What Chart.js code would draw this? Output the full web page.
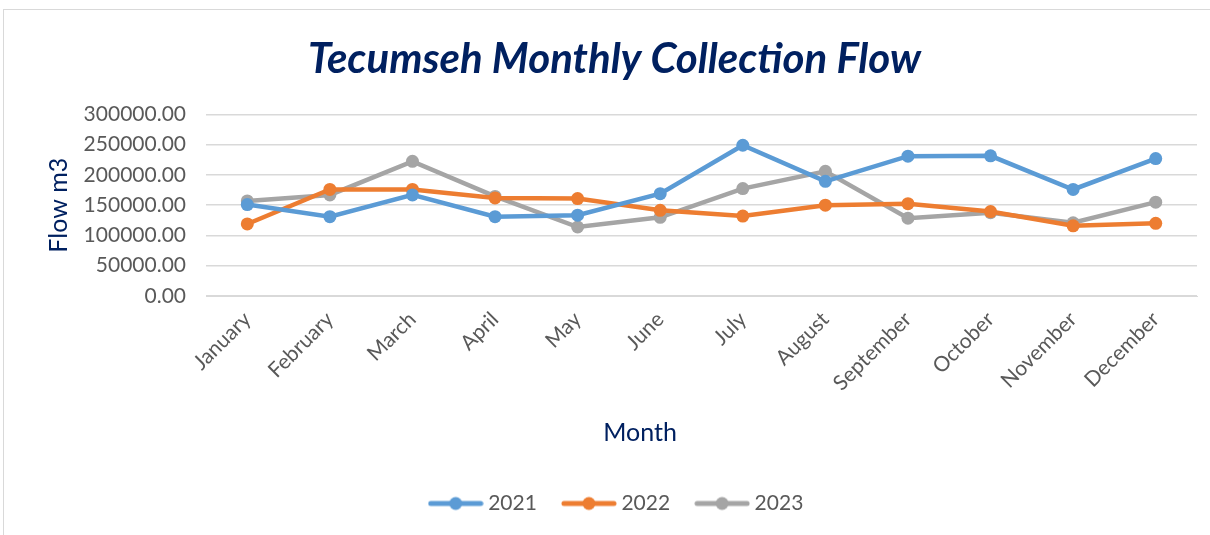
<!DOCTYPE html>
<html>
<head>
<meta charset="utf-8">
<script src="https://cdn.jsdelivr.net/npm/chart.js"></script>
<style>
  html, body { margin: 0; padding: 0; background: #fff; }
  #wrap {
    position: absolute; left: 3px; top: 9px; width: 1207px; height: 526px;
    border-left: 1px solid #d9d9d9; border-top: 1px solid #d9d9d9;
    box-sizing: border-box;
  }
  #chart { position: absolute; left: -4px; top: -10px; }
</style>
</head>
<body>
<div id="wrap"><canvas id="chart" width="1210" height="535"></canvas></div>
<script>
  'use strict';

  const months = ['January', 'February', 'March', 'April', 'May', 'June',
    'July', 'August', 'September', 'October', 'November', 'December'];
  const flow2021 = [151000, 131000, 167000, 131000, 133500, 169000, 249000, 189500, 231000, 231500, 176000, 227000];
  const flow2022 = [119000, 176000, 176000, 162000, 161000, 141500, 132000, 150000, 152500, 139500, 116000, 120000];
  const flow2023 = [157000, 167000, 222500, 164500, 114000, 130000, 177500, 206000, 128500, 137500, 121000, 155000];
  const yTicks = [0, 50000, 100000, 150000, 200000, 250000, 300000];

  const BLUE = '#5B9BD5';
  const ORANGE = '#ED7D31';
  const GRAY = '#A5A5A5';
  const NAVY = '#002060';
  const TEXT = '#595959';

  // legend marker: line with a dot on it
  function legendIcon(color) {
    const c = document.createElement('canvas');
    c.width = 56;
    c.height = 16;
    const g = c.getContext('2d');
    g.strokeStyle = color;
    g.lineWidth = 5;
    g.lineCap = 'round';
    g.beginPath();
    g.moveTo(3, 8);
    g.lineTo(53, 8);
    g.stroke();
    g.fillStyle = color;
    g.beginPath();
    g.arc(28, 8, 6.5, 0, Math.PI * 2);
    g.fill();
    return c;
  }

  function series(label, data, color) {
    return {
      label,
      data,
      borderColor: color,
      backgroundColor: color,
      borderWidth: 4.5,
      pointRadius: 6.5,
      pointHoverRadius: 6.5,
      pointBorderWidth: 0,
      pointStyle: 'circle',
      tension: 0
    };
  }

  // nudge title / legend off the plot centre the way the original sits,
  // and put the x-axis title where it is in the original
  const placement = {
    id: 'placement',
    afterLayout(chart) {
      chart.titleBlock.left += 32;
      chart.legend.left += 40;
    },
    afterDraw(chart) {
      const ctx = chart.ctx;
      ctx.save();
      ctx.font = '25px Lato';
      ctx.fillStyle = NAVY;
      ctx.textAlign = 'center';
      ctx.textBaseline = 'middle';
      ctx.fillText('Month', 640, 433);
      ctx.restore();
    }
  };

  new Chart(document.getElementById('chart').getContext('2d'), {
    type: 'line',
    data: {
      labels: months,
      datasets: [
        series('2021', flow2021, BLUE),
        series('2022', flow2022, ORANGE),
        series('2023', flow2023, GRAY)
      ]
    },
    plugins: [placement],
    options: {
      responsive: false,
      animation: false,
      layout: { padding: { left: 0, right: 13, top: 34, bottom: 11 } },
      plugins: {
        title: {
          display: true,
          text: 'Tecumseh Monthly Collection Flow',
          color: NAVY,
          font: { family: 'Lato', size: 42, weight: 'bold', style: 'italic', lineHeight: 1.2 },
          padding: { top: 0, bottom: 30 }
        },
        legend: {
          position: 'bottom',
          labels: {
            color: TEXT,
            font: { family: 'Lato', size: 21 },
            usePointStyle: true,
            pointStyleWidth: 44,
            boxHeight: 16,
            generateLabels: function (chart) {
              return chart.data.datasets.map((ds, i) => ({
                text: ds.label,
                fillStyle: ds.borderColor,
                strokeStyle: ds.borderColor,
                fontColor: TEXT,
                pointStyle: legendIcon(ds.borderColor),
                datasetIndex: i,
                hidden: false
              }));
            },
            padding: 30
          }
        },
        tooltip: { enabled: false }
      },
      scales: {
        x: {
          offset: true,
          grid: { display: false },
          border: { color: '#d9d9d9', width: 1 },
          afterFit: function (axis) { axis.height = 167; },
          ticks: {
            color: TEXT,
            font: { family: 'Lato', size: 21 },
            maxRotation: 45,
            minRotation: 45,
            autoSkip: false
          }
        },
        y: {
          min: 0,
          max: 300000,
          afterBuildTicks: function (axis) {
            axis.ticks = yTicks.map(v => ({ value: v }));
          },
          afterFit: function (axis) { axis.width = 206; },
          grid: { color: '#d9d9d9', lineWidth: 1.5, drawTicks: false },
          border: { display: false },
          ticks: {
            color: TEXT,
            font: { family: 'Lato', size: 21 },
            padding: 20,
            callback: function (value) {
              return Number(value).toFixed(2);
            }
          },
          title: {
            display: true,
            text: 'Flow m3',
            color: NAVY,
            font: { family: 'Lato', size: 25 },
            padding: { top: 44, bottom: 0 }
          }
        }
      }
    }
  });
</script>
</body>
</html>
